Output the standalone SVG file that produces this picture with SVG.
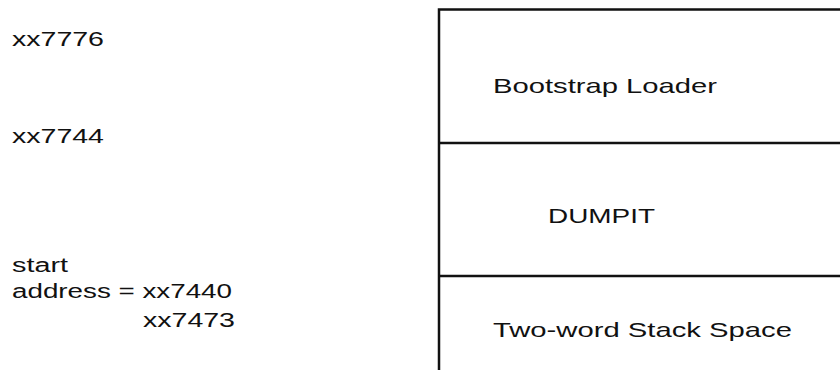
<svg xmlns="http://www.w3.org/2000/svg" width="840" height="370" viewBox="0 0 840 370">
<style>
text{font-family:"Liberation Sans",Arial,sans-serif;fill:#111;}
.addr{font-size:20px;}
.lbl{font-size:21px;}
.ln{stroke:#111;stroke-width:2.5;fill:none;}
</style>
<rect width="840" height="370" fill="#fff"/>
<g id="addresses">
<text class="addr" x="12" y="46" textLength="92" lengthAdjust="spacingAndGlyphs">xx7776</text>
<text class="addr" x="12" y="143" textLength="92" lengthAdjust="spacingAndGlyphs">xx7744</text>
<text class="addr" x="12" y="272" textLength="56" lengthAdjust="spacingAndGlyphs">start</text>
<text class="addr" x="12" y="298" textLength="220" lengthAdjust="spacingAndGlyphs">address = xx7440</text>
<text class="addr" x="143" y="327" textLength="92" lengthAdjust="spacingAndGlyphs">xx7473</text>
</g>
<g id="memory">
<path class="ln" d="M439,370 V9.5 H840"/>
</g>
<g id="bootstrap">
<text class="lbl" x="493" y="93" textLength="224" lengthAdjust="spacingAndGlyphs">Bootstrap Loader</text>
</g>
<g id="dumpit">
<line class="ln" x1="439" y1="143" x2="840" y2="143"/>
<text class="lbl" x="548" y="223" textLength="107" lengthAdjust="spacingAndGlyphs">DUMPIT</text>
</g>
<g id="stack">
<line class="ln" x1="439" y1="276" x2="840" y2="276"/>
<text class="lbl" x="493" y="337" textLength="299" lengthAdjust="spacingAndGlyphs">Two-word Stack Space</text>
</g>
<g id="connectors"></g>
</svg>
